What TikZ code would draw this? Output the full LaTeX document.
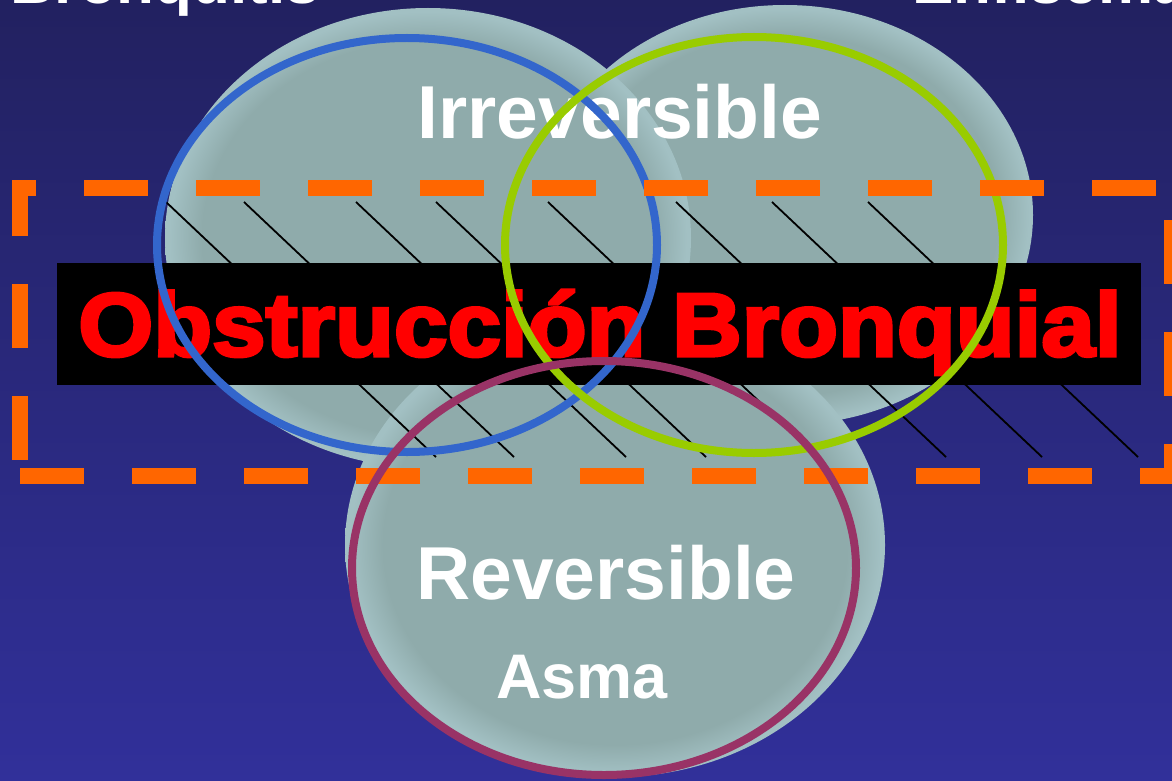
\documentclass[tikz,border=0pt]{standalone}
\usepackage{fontspec}
\setmainfont{Liberation Sans}
\newfontfamily\bannerfont[BoldFeatures={FakeBold=3.5}]{Liberation Sans}

\definecolor{bgtop}{HTML}{222160}
\definecolor{bgbot}{HTML}{31309A}
\definecolor{discfill}{HTML}{8FABAB}
\definecolor{discrim}{HTML}{A2C0C3}
\definecolor{bronchblue}{HTML}{3366CC}
\definecolor{emphgreen}{HTML}{99CC00}
\definecolor{asthmared}{HTML}{993366}
\definecolor{frameorange}{HTML}{FF6600}

% flat grey-blue body with a faint lighter rim near the edge
\pgfdeclareradialshading{discshade}{\pgfpoint{0bp}{0bp}}{%
  color(0bp)=(discfill); color(21.5bp)=(discfill);
  color(24.6bp)=(discrim); color(25bp)=(discrim); color(50bp)=(discrim)}

\begin{document}
\begin{tikzpicture}[x=1pt,y=-1pt,
  discbody/.style={shading=discshade},
  ring/.style={line width=8pt},
  hatchline/.style={line width=1.8pt,black},
  framedash/.style={frameorange,line width=16pt,dash pattern=on 64pt off 48pt,line join=miter},
  whitelabel/.style={text=white,inner sep=0pt,anchor=base,
    font=\fontsize{75}{80}\selectfont\bfseries},
  toplabel/.style={text=white,inner sep=0pt,anchor=base west,
    font=\fontsize{62}{66}\selectfont\bfseries},
]
\useasboundingbox (0,0) rectangle (1172,781);
\clip (0,0) rectangle (1172,781);

% background
\shade[top color=bgtop,bottom color=bgbot] (0,0) rectangle (1172,781);

% partially hidden headings
\node[toplabel] (bronq) at (10,4) {Bronquitis};
\node[toplabel] (enfis) at (912,4) {Enfisema};

% the three discs
\shade[discbody] (785,215) ellipse [x radius=248pt,y radius=210pt];
\shade[discbody] (428,238) ellipse [x radius=263pt,y radius=230pt];
\shade[discbody] (615,545) ellipse [x radius=270pt,y radius=232pt];

% hatching of the obstruction band
\foreach \hx in {166,244,356,436,548,676,772,868}
  \draw[hatchline] (\hx,202) -- ++(270,255);

% banner
\fill[black] (57,263) rectangle (1141,385);
\node[text=red,inner sep=0pt,anchor=base,font=\bannerfont\fontsize{90}{96}\selectfont\bfseries]
  (obst) at (600,356) {\scalebox{1.07}[1]{Obstrucción Bronquial}};

% labels
\node[whitelabel] (irrev) at (620,139) {Irreversible};
\node[whitelabel] (rev) at (606,599) {Reversible};
\node[whitelabel,font=\fontsize{63}{68}\selectfont\bfseries] (asma) at (582,698) {Asma};

% outlines
\draw[ring,bronchblue] (407,245) ellipse [x radius=250pt,y radius=207pt];
\draw[ring,emphgreen] (754,245) ellipse [x radius=249pt,y radius=208pt];

% dashed frame
\draw[framedash,dash phase=40pt] (12,188) -- (1172,188) -- (1172,476) -- (20,476);
\draw[framedash,dash phase=8pt] (20,180) -- (20,476);

\draw[ring,asthmared] (604,568) ellipse [x radius=252pt,y radius=207pt];
\end{tikzpicture}
\end{document}
